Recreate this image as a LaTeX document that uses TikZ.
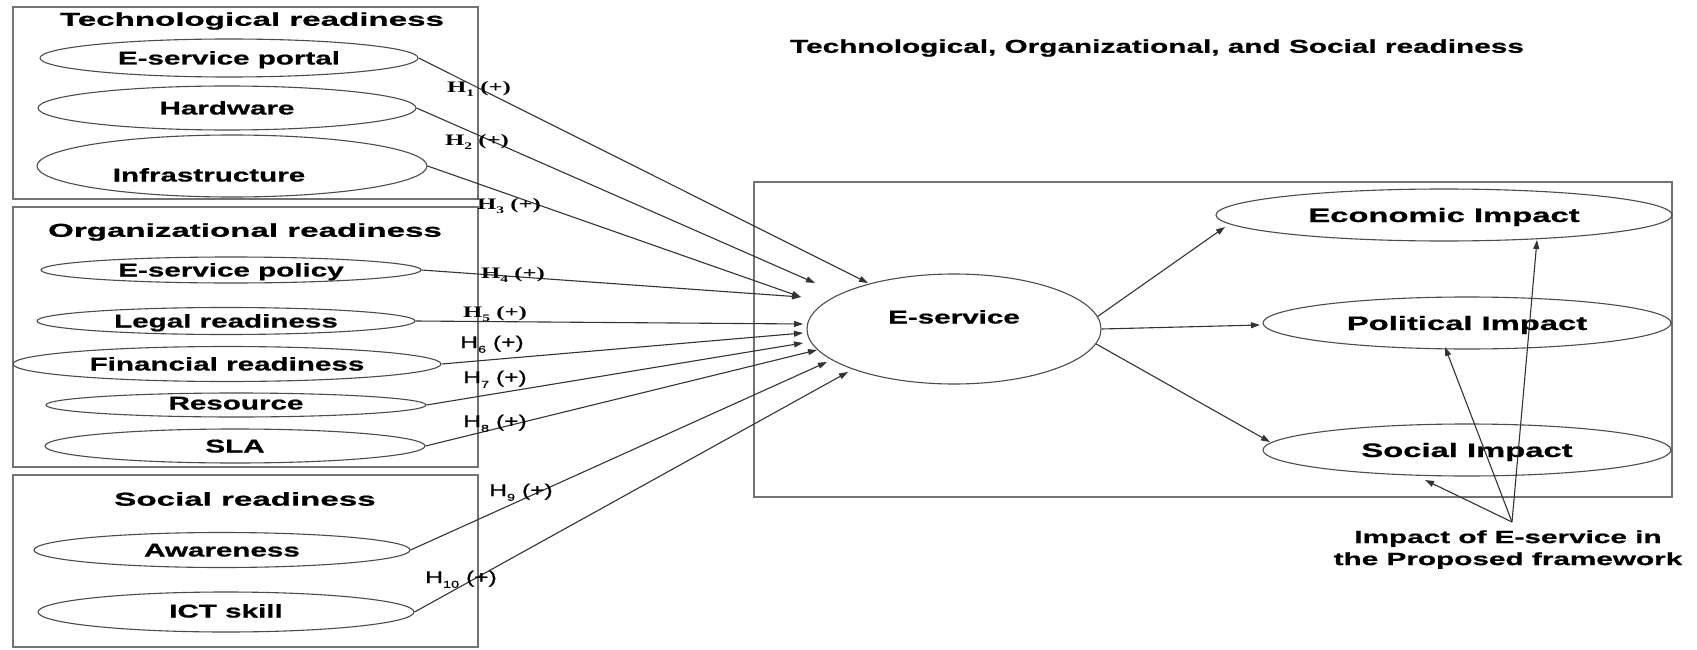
\documentclass[tikz,border=0pt]{standalone}
\usepackage{fontspec}
\setmainfont{Liberation Sans}
\newfontfamily\sectf[FakeStretch=1.78,FakeBold=0.8]{Liberation Sans}
\newfontfamily\labf[FakeStretch=1.6,FakeBold=0.8]{Liberation Sans}
\newfontfamily\impf[FakeStretch=1.68,FakeBold=0.8]{Liberation Sans}
\newfontfamily\hsansf[FakeStretch=1.45,FakeBold=0.4]{Liberation Sans}
\newfontfamily\hseriff[FakeStretch=1.55]{Liberation Serif}
\usetikzlibrary{shapes.geometric,arrows.meta}
\newcommand\hsub[1]{\raisebox{-0.28em}{\fontsize{10}{10}\selectfont #1}}
\newcommand\Hlab[1]{H\hsub{#1} (+)}
\tikzset{
  box/.style={draw=black!55, line width=1.6pt, inner sep=0pt},
  oval/.style={ellipse, draw=black!70, line width=1.1pt, inner sep=0pt},
  sect/.style={font=\sectf\bfseries\fontsize{18.6}{20}\selectfont, inner sep=0pt},
  lab/.style={font=\labf\bfseries\fontsize{18.5}{20}\selectfont, inner sep=0pt, text height=13pt, text depth=0pt},
  imp/.style={font=\impf\bfseries\fontsize{19.5}{21}\selectfont, inner sep=0pt, text height=14pt, text depth=0pt},
  capt/.style={font=\impf\bfseries\fontsize{17.7}{22}\selectfont, inner sep=0pt, align=center},
  hs/.style={font=\hsansf\fontsize{17}{18}\selectfont, inner sep=0pt, text height=12pt, text depth=0pt},
  hr/.style={font=\hseriff\bfseries\fontsize{16}{18}\selectfont, inner sep=0pt, text height=11pt, text depth=0pt},
  arr/.style={draw=black!80, line width=1.1pt, -{Triangle[length=9pt,width=6pt]}}
}
\begin{document}
\begin{tikzpicture}[x=1pt,y=-1pt]
\fill[white] (0,0) rectangle (1697,650);
\useasboundingbox (0,0) rectangle (1697,650);

% group boxes
\node[box, minimum width=465pt, minimum height=192pt] (techbox) at (245.5,103) {};
\node[box, minimum width=465pt, minimum height=260pt] (orgbox) at (245.5,337) {};
\node[box, minimum width=465pt, minimum height=172pt] (socbox) at (245.5,561) {};
\node[box, minimum width=918pt, minimum height=315pt] (mainbox) at (1213,339.5) {};

% titles
\node[sect] (techtitle) at (252,21) {Technological readiness};
\node[sect] (orgtitle) at (245,232) {Organizational readiness};
\node[sect] (soctitle) at (245,499) {Social readiness};
\node[font=\labf\bfseries\fontsize{18.6}{20}\selectfont, inner sep=0pt] (toptitle) at (1157,48) {Technological, Organizational, and Social readiness};

% left ellipses
\node[oval, minimum width=378pt, minimum height=38pt, label={[lab]center:E-service portal}] (portal) at (229,58) {};
\node[oval, minimum width=378pt, minimum height=44pt, label={[lab]center:Hardware}] (hardware) at (227,108) {};
\node[oval, minimum width=390pt, minimum height=62pt, label={[lab, xshift=-23pt, yshift=-9pt]center:Infrastructure}] (infra) at (232,166) {};
\node[oval, minimum width=380pt, minimum height=26pt, label={[lab]center:E-service policy}] (policy) at (231,270) {};
\node[oval, minimum width=378pt, minimum height=27pt, label={[lab]center:Legal readiness}] (legal) at (226,321) {};
\node[oval, minimum width=428pt, minimum height=35pt, label={[lab]center:Financial readiness}] (financial) at (227,364) {};
\node[oval, minimum width=380pt, minimum height=24pt, label={[lab, yshift=2pt]center:Resource}] (resource) at (236,405) {};
\node[oval, minimum width=380pt, minimum height=34pt, label={[lab]center:SLA}] (sla) at (235,446) {};
\node[oval, minimum width=376pt, minimum height=35pt, label={[lab]center:Awareness}] (awareness) at (222,550) {};
\node[oval, minimum width=376pt, minimum height=40pt, label={[lab, yshift=1pt]center:ICT skill}] (ict) at (226,612) {};

% central and impact ellipses
\node[oval, minimum width=294pt, minimum height=110pt, label={[lab, yshift=12pt]center:E-service}] (eserv) at (954,329) {};
\node[oval, minimum width=456pt, minimum height=52pt, label={[imp]center:Economic Impact}] (econ) at (1444,215) {};
\node[oval, minimum width=408pt, minimum height=52pt, label={[imp]center:Political Impact}] (polit) at (1467,323) {};
\node[oval, minimum width=408pt, minimum height=52pt, label={[imp]center:Social Impact}] (social) at (1467,450) {};

% caption
\node[capt] (caption) at (1508,549.5) {Impact of E-service in\\the Proposed framework};

% arrow end points near E-service
\coordinate (t1) at (868,283);
\coordinate (t2) at (815,283);
\coordinate (t3) at (801,297);
\coordinate (t4) at (801,297);
\coordinate (t5) at (803,324);
\coordinate (t6) at (803,333);
\coordinate (t7) at (803,343);
\coordinate (t8) at (817,350);
\coordinate (t9) at (827,362);
\coordinate (t10) at (848,372);
\coordinate (te) at (1225,227);
\coordinate (tp) at (1260,325);
\coordinate (ts) at (1270,442);
\coordinate (cv) at (1512,522);
\coordinate (ce) at (1537,240);
\coordinate (cp) at (1445,347);
\coordinate (cs) at (1425,480);

% hypothesis arrows
\draw[arr] (portal.east) -- (t1);
\draw[arr] (hardware.east) -- (t2);
\draw[arr] (infra.east) -- (t3);
\draw[arr] (policy.east) -- (t4);
\draw[arr] (legal.east) -- (t5);
\draw[arr] (financial.east) -- (t6);
\draw[arr] (resource.east) -- (t7);
\draw[arr] (sla.east) -- (t8);
\draw[arr] (awareness.east) -- (t9);
\draw[arr] (ict.east) -- (t10);

% E-service to impacts
\draw[arr] (eserv.5) -- (te);
\draw[arr] (eserv.0) -- (tp);
\draw[arr] (eserv.-6) -- (ts);

% caption arrows
\draw[arr] (cv) -- (ce);
\draw[arr] (cv) -- (cp);
\draw[arr] (cv) -- (cs);

% hypothesis labels
\node[hr] (h1) at (479,87) {\Hlab{1}};
\node[hr] (h2) at (477,140) {\Hlab{2}};
\node[hr] (h3) at (509,204) {\Hlab{3}};
\node[hr] (h4) at (513,273) {\Hlab{4}};
\node[hr] (h5) at (495,312) {\Hlab{5}};
\node[hs] (h6) at (492,342) {\Hlab{6}};
\node[hs] (h7) at (495,377) {\Hlab{7}};
\node[hs] (h8) at (495,421) {\Hlab{8}};
\node[hs] (h9) at (521,490) {\Hlab{9}};
\node[hs] (h10) at (461,577) {\Hlab{10}};
\end{tikzpicture}
\end{document}
